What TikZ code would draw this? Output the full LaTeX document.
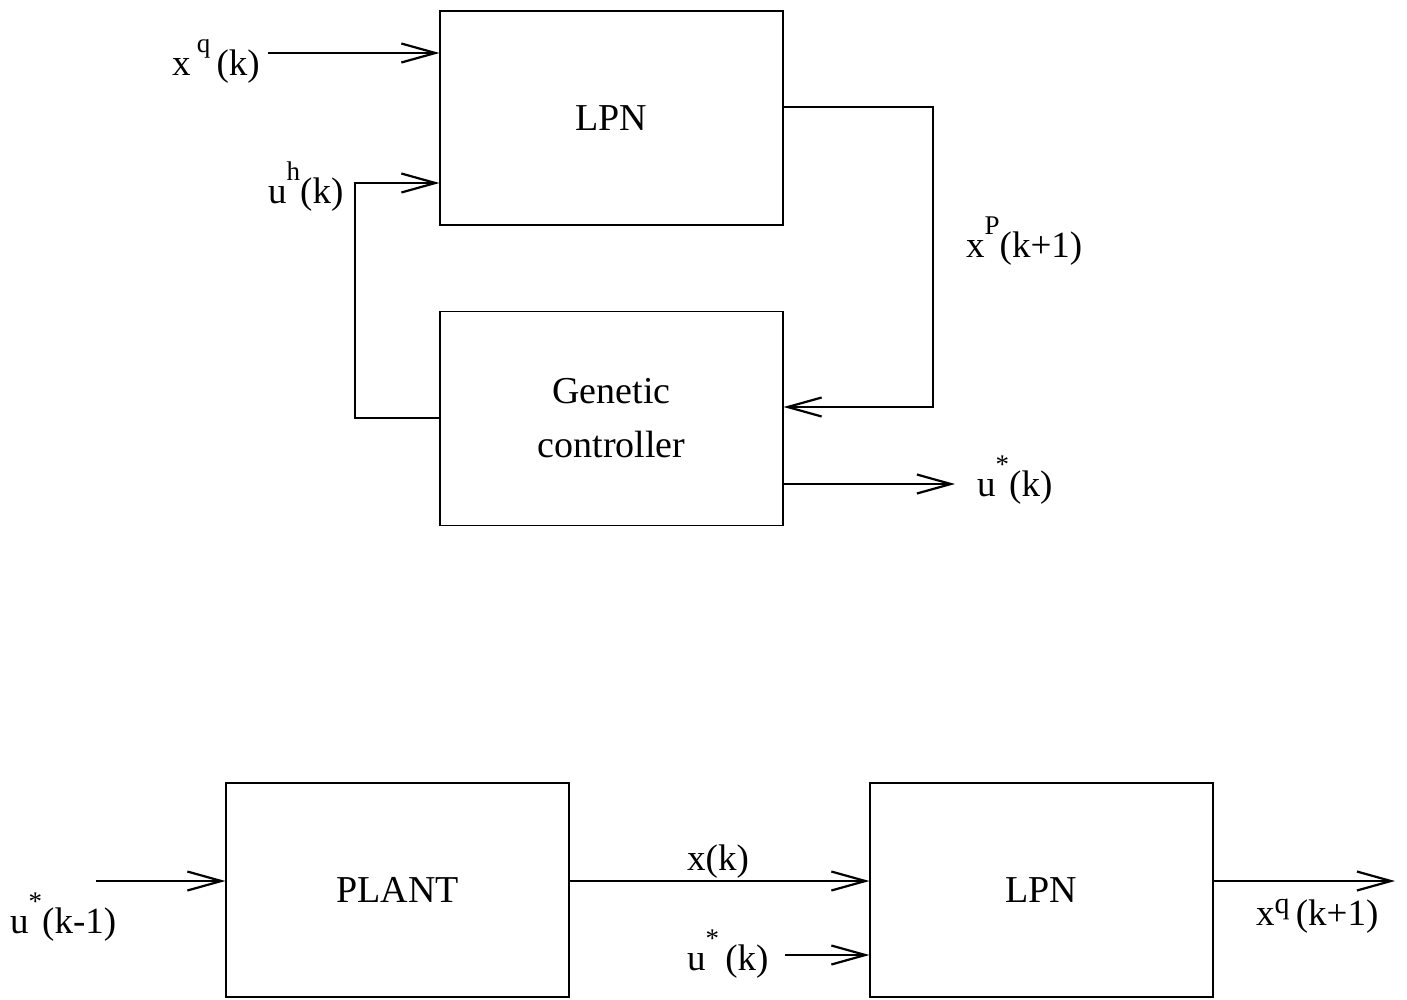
\documentclass[tikz,border=0pt]{standalone}
\usepackage{fontspec}
\setmainfont{Liberation Serif}
\usetikzlibrary{arrows.meta}
\newcommand{\sps}[1]{\raisebox{0.6em}{\fontsize{27}{27}\selectfont #1}}
\newcommand{\spl}[1]{\raisebox{0.3em}{\fontsize{30}{30}\selectfont #1}}
\begin{document}
\begin{tikzpicture}[x=1pt,y=-1pt,
  blk/.style={draw, line width=1.1pt, minimum width=343pt, minimum height=214pt, inner sep=0pt, align=center, font=\fontsize{38}{54}\selectfont},
  lbl/.style={inner sep=0pt, anchor=base west, font=\fontsize{37}{42}\selectfont},
  conn/.style={line width=2.2pt, -{Straight Barb[length=34pt,width=19pt,line width=2.2pt]}}]
\useasboundingbox (0,0) rectangle (1407,999);
% top part
\node[blk] (lpn1) at (611.5,118) {LPN};
\node[blk] (gc) at (611.5,418.5) {Genetic\\controller};
\node[lbl] (lxq) at (172,75) {x\,\sps{q}\,(k)};
\node[lbl] (luh) at (268,203) {u\sps{h}(k)};
\node[lbl] (lxp) at (966,257) {x\sps{P}(k+1)};
\node[lbl] (lus) at (977,496) {u\sps{*}(k)};
\coordinate (a1) at (268,53);
\draw[conn] (a1) -- (a1 -| lpn1.west);
\coordinate (b1) at (355,418);
\coordinate (b2) at (355,183);
\draw[conn] (b1 -| gc.west) -- (b1) -- (b2) -- (b2 -| lpn1.west);
\coordinate (c1) at (933,107);
\coordinate (c2) at (933,407);
\draw[conn] (c1 -| lpn1.east) -- (c1) -- (c2) -- (c2 -| gc.east);
\coordinate (d1) at (955,484);
\draw[conn] (d1 -| gc.east) -- (d1);
% bottom part
\node[blk] (plant) at (397.5,890) {PLANT};
\node[blk] (lpn2) at (1041.5,890) {LPN};
\node[lbl] (lu1) at (10,933) {u\sps{*}(k-1)};
\node[lbl] (lxk) at (687,870) {x(k)};
\node[lbl] (lu2) at (687,970) {u\sps{*}\,(k)};
\node[lbl] (lxq2) at (1256,925) {x\spl{q}\,(k+1)};
\coordinate (e1) at (96,881);
\draw[conn] (e1) -- (e1 -| plant.west);
\draw[conn] (plant.east |- e1) -- (lpn2.west |- e1);
\coordinate (f1) at (785,955);
\draw[conn] (f1) -- (f1 -| lpn2.west);
\coordinate (g1) at (1395,881);
\draw[conn] (lpn2.east |- g1) -- (g1);
\end{tikzpicture}
\end{document}
